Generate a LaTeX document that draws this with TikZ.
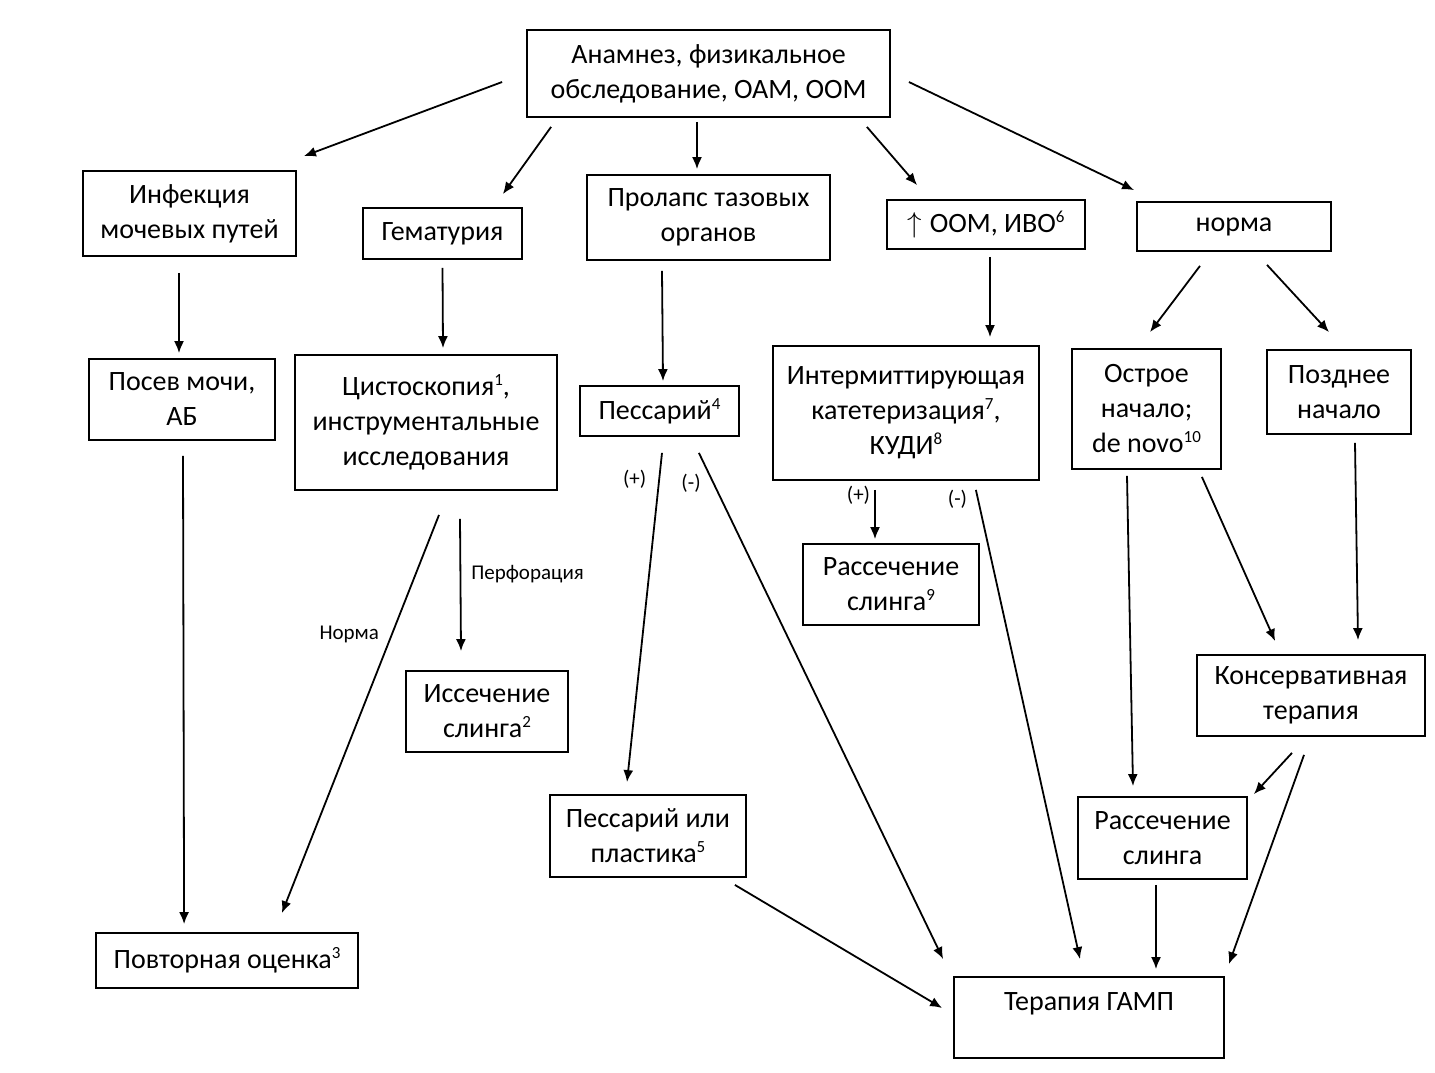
\documentclass[tikz,border=0pt]{standalone}
\usepackage{fontspec}
\setmainfont{Carlito}
\usetikzlibrary{arrows.meta}
\newcommand{\sups}[1]{\raisebox{0.75ex}{\fontsize{8.5}{8.5}\selectfont #1}}

\begin{document}
\begin{tikzpicture}[x=0.5pt,y=-0.5pt,font=\fontsize{14}{17.5}\selectfont,
  box/.style={draw,line width=0.9pt,inner sep=0pt,align=center},
  arr/.style={line width=0.9pt,-{Latex[length=6pt,width=5pt]}},
  lbl/.style={font=\fontsize{10.5}{12}\selectfont,inner sep=2pt}]

\useasboundingbox (0,0) rectangle (1435,1072);

\node[box, minimum width=181.5pt, minimum height=43.5pt](exam) at (708.5,73.5){Анамнез, физикальное\\обследование, ОАМ, ООМ};

\node[box, minimum width=106.5pt, minimum height=42.5pt](infect) at (189.5,213.5){Инфекция\\мочевых путей};
\node[box, minimum width=79.5pt, minimum height=25.5pt](hemat) at (442.5,233.5){Гематурия};
\node[box, minimum width=121.5pt, minimum height=42.5pt](prolapse) at (708.5,217.5){Пролапс тазовых\\органов};
\node[box, minimum width=99pt, minimum height=24.5pt](oomivo) at (986,224.5){$\uparrow$\;ООМ, ИВО\sups{6}};
\node[box, minimum width=97pt, minimum height=24.5pt](normal) at (1234,226.5){норма};

\node[box, minimum width=93pt, minimum height=40.5pt](culture) at (182,399.5){Посев мочи,\\АБ};
\node[box, minimum width=131pt, minimum height=67.5pt](cysto) at (426,422.5){Цистоскопия\sups{1},\\инструментальные\\исследования};
\node[box, minimum width=79.5pt, minimum height=25pt](pessary) at (659.5,411){Пессарий\sups{4}};
\node[box, minimum width=133pt, minimum height=67pt](catheter) at (906,413){Интермиттирующая\\катетеризация\sups{7},\\КУДИ\sups{8}};
\node[box, minimum width=74.5pt, minimum height=60pt](acute) at (1146.5,409){Острое\\начало;\\de novo\sups{10}};
\node[box, minimum width=72pt, minimum height=42pt](late) at (1339,392){Позднее\\начало};

\node[box, minimum width=88pt, minimum height=40.5pt](incisA) at (891,584.5){Рассечение\\слинга\sups{9}};
\node[box, minimum width=81pt, minimum height=40.5pt](excision) at (487,711.5){Иссечение\\слинга\sups{2}};
\node[box, minimum width=114pt, minimum height=40.5pt](conserv) at (1311,695.5){Консервативная\\терапия};
\node[box, minimum width=98pt, minimum height=41pt](pessplast) at (648,836){Пессарий или\\пластика\sups{5}};
\node[box, minimum width=84.5pt, minimum height=41pt](incisB) at (1162.5,838){Рассечение\\слинга};
\node[box, minimum width=131pt, minimum height=27.5pt](reassess) at (227,960.5){Повторная оценка\sups{3}};
\node[box, minimum width=135pt, minimum height=40.5pt, text depth=16pt](gamp) at (1089,1017.5){Терапия ГАМП};

% from the first examination
\draw[arr] ([shift={(-24,8.5)}]exam.west) -- ([shift={(7,-14)}]infect.north east);
\draw[arr] ([shift={(25,9)}]exam.south west) -- ([shift={(-20,-13)}]hemat.north east);
\draw[arr] ([shift={(-11.5,4)}]exam.south) -- ([shift={(-11.5,-5)}]prolapse.north);
\draw[arr] ([shift={(-24,9)}]exam.south east) -- ([shift={(31,-14)}]oomivo.north west);
\draw[arr] ([shift={(18,8.5)}]exam.east) -- ([shift={(-2,-11)}]normal.north west);

% second row
\draw[arr] ([shift={(-10.5,16)}]infect.south) -- ([shift={(-3,-5)}]culture.north);
\draw[arr] ([shift={(0,8)}]hemat.south) -- ([shift={(17,-6)}]cysto.north);
\draw[arr] ([shift={(-46.5,10)}]prolapse.south) -- ([shift={(3.5,-4)}]pessary.north);
\draw[arr] ([shift={(4,7)}]oomivo.south) -- ([shift={(84,-8)}]catheter.north);
\draw[arr] ([shift={(-34,14)}]normal.south) -- ([shift={(3.5,-16)}]acute.north);
\draw[arr] ([shift={(33,13)}]normal.south) -- ([shift={(-10,-17)}]late.north);

% lower part
\draw[arr] ([shift={(1,15)}]culture.south) -- ([shift={(89,-8)}]reassess.north west);
\draw[arr] ([shift={(13,24)}]cysto.south) -- node[lbl,pos=0.3,left=4pt]{Норма} ([shift={(-77,-19)}]reassess.north east);
\draw[arr] ([shift={(34,28)}]cysto.south) -- node[lbl,pos=0.42,right=3pt]{Перфорация} ([shift={(-26,-19)}]excision.north);
\draw[arr] ([shift={(2.5,16)}]pessary.south) -- node[lbl,pos=0.08,left=4pt]{(+)} ([shift={(-21,-12)}]pessplast.north);
\draw[arr] ([shift={(-41,16)}]pessary.south east) -- node[lbl,pos=0.06,left=4pt]{(-)} ([shift={(-10,-17)}]gamp.north west);
\draw[arr] ([shift={(-31,9)}]catheter.south) -- node[lbl,pos=0.1,left]{(+)} ([shift={(-16,-4)}]incisA.north);
\draw[arr] ([shift={(-64,9)}]catheter.south east) -- node[lbl,pos=0.02,left=3pt]{(-)} ([shift={(-9,-17)}]gamp.north);
\draw[arr] ([shift={(-19.5,6)}]acute.south) -- ([shift={(-29.5,-10)}]incisB.north);
\draw[arr] ([shift={(-20,7)}]acute.south east) -- ([shift={(79,-13)}]conserv.north west);
\draw[arr] ([shift={(16,8)}]late.south) -- ([shift={(47,-14)}]conserv.north);
\draw[arr] ([shift={(-19,16)}]conserv.south) -- ([shift={(6,-2)}]incisB.north east);
\draw[arr] ([shift={(-7,18)}]conserv.south) -- ([shift={(4,-12)}]gamp.north east);
\draw[arr] ([shift={(-6.5,5)}]incisB.south) -- ([shift={(67,-7)}]gamp.north);
\draw[arr] ([shift={(-12,7)}]pessplast.south east) -- ([shift={(-11,-9.5)}]gamp.west);

\end{tikzpicture}
\end{document}
